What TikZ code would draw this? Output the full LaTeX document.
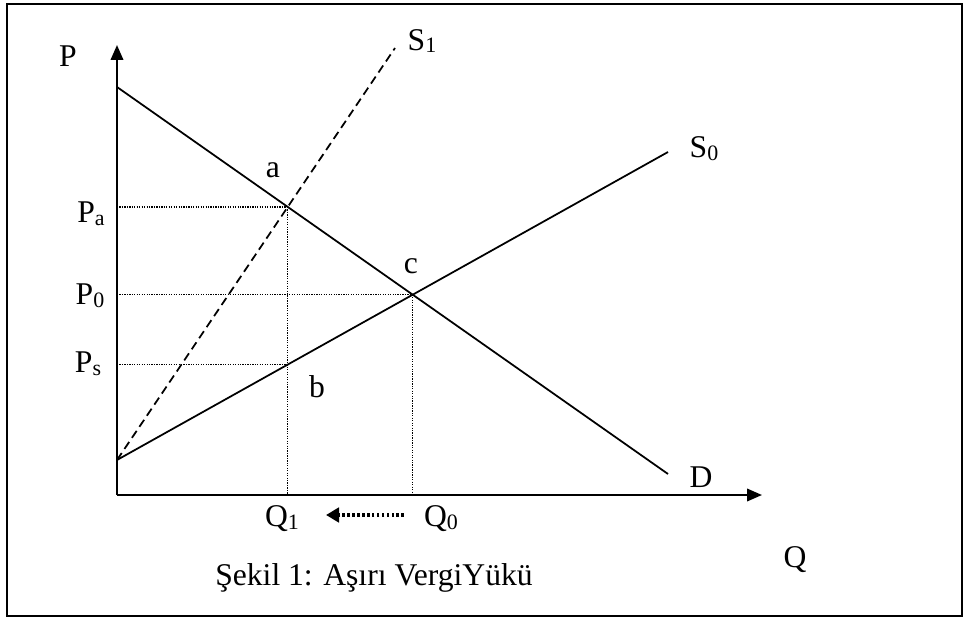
\documentclass[tikz,border=0pt]{standalone}
\usepackage{fontspec}
\setmainfont{Liberation Serif}
\usetikzlibrary{arrows.meta}

\newcommand{\lowidx}[1]{\raisebox{-0.2ex}{\fontsize{12.5}{12.5}\selectfont #1}}

\begin{document}
\begin{tikzpicture}[
  font=\fontsize{18}{21}\selectfont,
  axisline/.style={line width=1.2pt,-{Triangle[length=3mm,width=2.5mm]}},
  curveline/.style={line width=1pt},
  taxline/.style={line width=1pt,dash pattern=on 4.8pt off 2.8pt},
  guide/.style={line width=0.75pt,dash pattern=on 0.7pt off 0.7pt},
  shiftarrow/.style={line width=2pt,dash pattern=on 1.5pt off 1.3pt,
                     -{Triangle[length=2.6mm,width=2.9mm]},
                     shorten <=3.6mm,shorten >=5mm},
  border/.style={line width=1.2pt},
  lbl/.style={inner sep=1pt}
]

% ---- page & frame ----
\useasboundingbox (-23.4mm,-24.8mm) rectangle (169.4mm,99mm);
\draw[border] (-22mm,-24.2mm) rectangle (169mm,98.2mm);

% ---- key points ----
\coordinate (O)     at (0,0);
\coordinate (Ptop)  at (0,90mm);
\coordinate (Qend)  at (129mm,0);
\coordinate (S)     at (0,7mm);
\coordinate (Dtop)  at (0,81.6mm);
\coordinate (Dend)  at (110.2mm,4.2mm);
\coordinate (S0end) at (110.2mm,68.6mm);
\coordinate (S1end) at (55.6mm,89.4mm);

\coordinate (a) at (intersection of Dtop--Dend and S--S1end);
\coordinate (c) at (intersection of Dtop--Dend and S--S0end);
\coordinate (Q1pt) at (a |- O);
\coordinate (Q0pt) at (c |- O);
\coordinate (b) at (intersection of S--S0end and a--Q1pt);

% ---- dotted guides ----
\draw[guide] (a -| O) -- (a);
\draw[guide] (c -| O) -- (c);
\draw[guide] (b -| O) -- (b);
\draw[guide] (a) -- (Q1pt);
\draw[guide] (c) -- (Q0pt);

% ---- curves ----
\draw[curveline] (Dtop) -- (Dend);
\draw[curveline] (S) -- (S0end);
\draw[taxline] (S) -- (S1end);

% ---- axes ----
\draw[axisline] (O) -- (Ptop);
\draw[axisline] (O) -- (Qend);

% ---- labels ----
\node[lbl] (lP)  at (-9.8mm,87.8mm) {P};
\node[lbl] (lPa) at (-5.2mm,56.2mm) {P\lowidx{a}};
\node[lbl] (lP0) at (-5.4mm,39.8mm) {P\lowidx{0}};
\node[lbl] (lPs) at (-5.8mm,26.2mm) {P\lowidx{s}};
\node[lbl] (la)  at (31.2mm,65mm)   {a};
\node[lbl] (lc)  at (58.8mm,45.8mm) {c};
\node[lbl] (lb)  at (40mm,21.6mm)   {b};
\node[lbl] (lS1) at (61mm,90.8mm)   {S\lowidx{1}};
\node[lbl] (lS0) at (117.4mm,69.2mm) {S\lowidx{0}};
\node[lbl] (lD)  at (116.8mm,3.6mm) {D};
\node[lbl] (lQ1) at (33mm,-4.8mm)   {Q\lowidx{1}};
\node[lbl] (lQ0) at (64.8mm,-4.8mm) {Q\lowidx{0}};
\node[lbl] (lQ)  at (135.6mm,-13mm) {Q};

% ---- shift of quantity ----
\draw[shiftarrow] ([yshift=0.8mm]lQ0.west) -- ([yshift=0.8mm]lQ1.east);

% ---- caption ----
\node[lbl] (cap) at (51.4mm,-16.6mm) {Şekil 1: Aşırı VergiYükü};

\end{tikzpicture}
\end{document}
